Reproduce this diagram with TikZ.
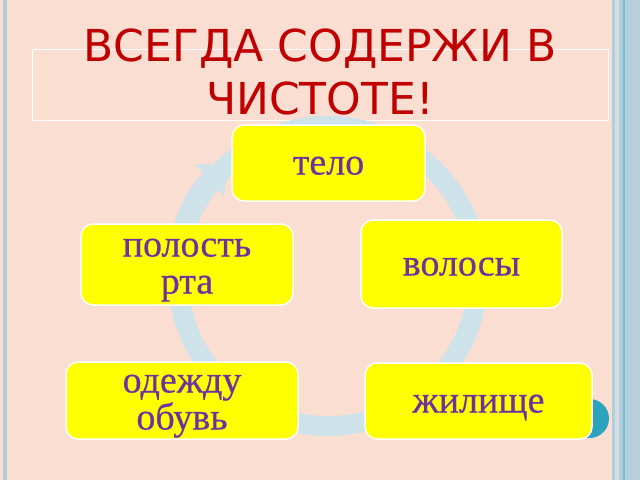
\documentclass[tikz,border=0pt]{standalone}
\usepackage{fontspec}
\setmainfont{Liberation Serif}
\newfontfamily\boxfont[FakeBold=0.5]{Liberation Serif}
\newfontfamily\titlefont{DejaVu Sans}
\usetikzlibrary{arrows.meta, positioning}
\definecolor{peach}{HTML}{FADED2}
\definecolor{ringblue}{HTML}{CDE2E9}
\definecolor{titlered}{HTML}{C00000}
\definecolor{boxtext}{HTML}{7030A0}
\definecolor{boxyellow}{HTML}{FFFF00}
\definecolor{edgeblue}{HTML}{AECFDD}
\definecolor{edgepale}{HTML}{D8DEE0}
\definecolor{edgedark}{HTML}{7FBCD0}
\definecolor{edgegray}{HTML}{B8CFDB}
\definecolor{dotteal}{HTML}{2BA3BD}

\begin{document}
\begin{tikzpicture}[x=1pt, y=-1pt,
	item/.style={shape=rectangle, rounded corners=12pt, fill=boxyellow,
		draw=white, line width=1.5pt, text=boxtext, align=center,
		font=\boxfont\fontsize{38}{37}\selectfont, inner sep=0pt,
		text height=30pt, text depth=7pt},
	twoline/.style={item, text height=65pt},
	ring/.style={draw=ringblue, line width=20pt}]

	% page and side stripes
	\fill[peach] (0,0) rectangle (640,480);
	\fill[edgeblue] (3,0) rectangle (7,480);
	\fill[edgeblue] (612,0) rectangle (615,480);
	\fill[edgepale] (615,0) rectangle (619,480);
	\fill[edgeblue] (619,0) rectangle (623,480);
	\fill[edgedark] (623,0) rectangle (625,480);
	\fill[edgeblue] (625,0) rectangle (629,480);
	\fill[edgegray] (629,0) rectangle (640,480);

	\node[draw=white, line width=1pt, minimum width=576pt, minimum height=71pt, inner sep=0pt] (frame) at (320,84.5) {};
	\node[font=\titlefont\fontsize{44}{53}\selectfont, text=titlered, align=center, inner sep=0pt] (title) at (320,71.5) {ВСЕГДА СОДЕРЖИ В\\ЧИСТОТЕ!};

	% cycle ring
	\coordinate (hub) at (328,276);
	\draw[ring] (hub) circle (150pt);
	\draw[ring, -{Triangle[width=42pt, length=24pt]}] ([shift={(200:150pt)}]hub) arc (200:132:150pt);

	\fill[dotteal] (589.5,418.5) circle (19.5pt);

	\node[item, minimum width=193pt, minimum height=76pt] (telo) at (328.5,163) {тело};
	\node[item, minimum width=201pt, minimum height=88pt] (volosy) at (461.5,264) {волосы};
	\node[twoline, minimum width=212pt, minimum height=81pt] (polost) at (187,264.5) {полость\\рта};
	\node[twoline, minimum width=232pt, minimum height=77pt] (odezhda) at (182,400.5) {одежду\\обувь};
	\node[item, minimum width=227pt, minimum height=76pt] (zhilishche) at (478.5,401) {жилище};
\end{tikzpicture}
\end{document}
